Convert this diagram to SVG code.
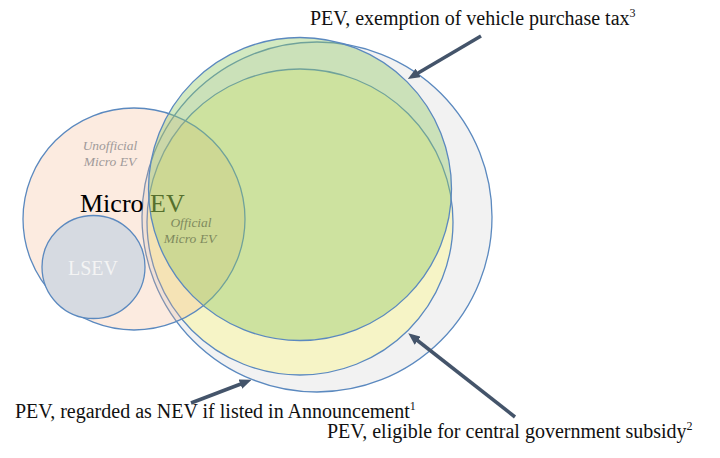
<svg xmlns="http://www.w3.org/2000/svg" width="720" height="458" viewBox="0 0 720 458">
<defs>
<style>
.c{stroke:#5b89bf;stroke-width:1.3}
.lbl{font-family:"Liberation Serif","Times New Roman",serif;font-size:20px;fill:#111}
.sup{font-size:12px}
.it{font-family:"Liberation Serif","Times New Roman",serif;font-style:italic;font-size:13.5px;text-anchor:middle}
.arr{stroke:#44546a;stroke-width:3.5;fill:none;marker-end:url(#ah)}
</style>
<marker id="ah" markerUnits="userSpaceOnUse" markerWidth="12" markerHeight="10" refX="6" refY="5" orient="auto">
<path d="M0,0 L12,5 L0,10 z" fill="#44546a"/>
</marker>
</defs>
<rect width="720" height="458" fill="#ffffff"/>
<g id="nev-announcement"><circle class="c" cx="317" cy="217" r="175" fill="#f2f2f2"/></g>
<g id="central-subsidy"><circle class="c" cx="300" cy="222" r="153" fill="#f6f4c6"/></g>
<g id="micro-ev"><circle class="c" cx="134" cy="219" r="111" fill="#f4b183" fill-opacity="0.25"/></g>
<g id="lsev">
<circle class="c" cx="93.5" cy="267" r="51.5" fill="#d6dae1"/>
<text x="93" y="275" text-anchor="middle" style="font-family:'Liberation Serif','Times New Roman',serif;font-size:20px;fill:#f4f4f4">LSEV</text>
</g>
<g id="tax-exemption"><circle class="c" cx="300" cy="189" r="151.5" fill="#91c864" fill-opacity="0.4"/></g>
<g id="micro-ev-labels">
<text class="it" x="110" y="150" fill="#a09a9a">Unofficial</text>
<text class="it" x="110" y="166" fill="#a09a9a">Micro EV</text>
<text x="80" y="212" style="font-family:'Liberation Serif','Times New Roman',serif;font-size:26px;fill:#000">Micro <tspan fill="#56702e">EV</tspan></text>
<text class="it" x="191" y="227" fill="#7f8a5e">Official</text>
<text class="it" x="190" y="243" fill="#7f8a5e">Micro EV</text>
</g>
<g id="connectors">
<line class="arr" x1="481" y1="36" x2="413" y2="76"/>
<line class="arr" x1="191" y1="403" x2="246" y2="382"/>
<line class="arr" x1="515" y1="417" x2="413" y2="337"/>
</g>
<g id="labels">
<text class="lbl" x="310" y="25">PEV, exemption of vehicle purchase tax<tspan class="sup" dy="-8">3</tspan></text>
<text class="lbl" x="15" y="418">PEV, regarded as NEV if listed in Announcement<tspan class="sup" dy="-8">1</tspan></text>
<text class="lbl" x="327" y="438">PEV, eligible for central government subsidy<tspan class="sup" dy="-8">2</tspan></text>
</g>
</svg>
